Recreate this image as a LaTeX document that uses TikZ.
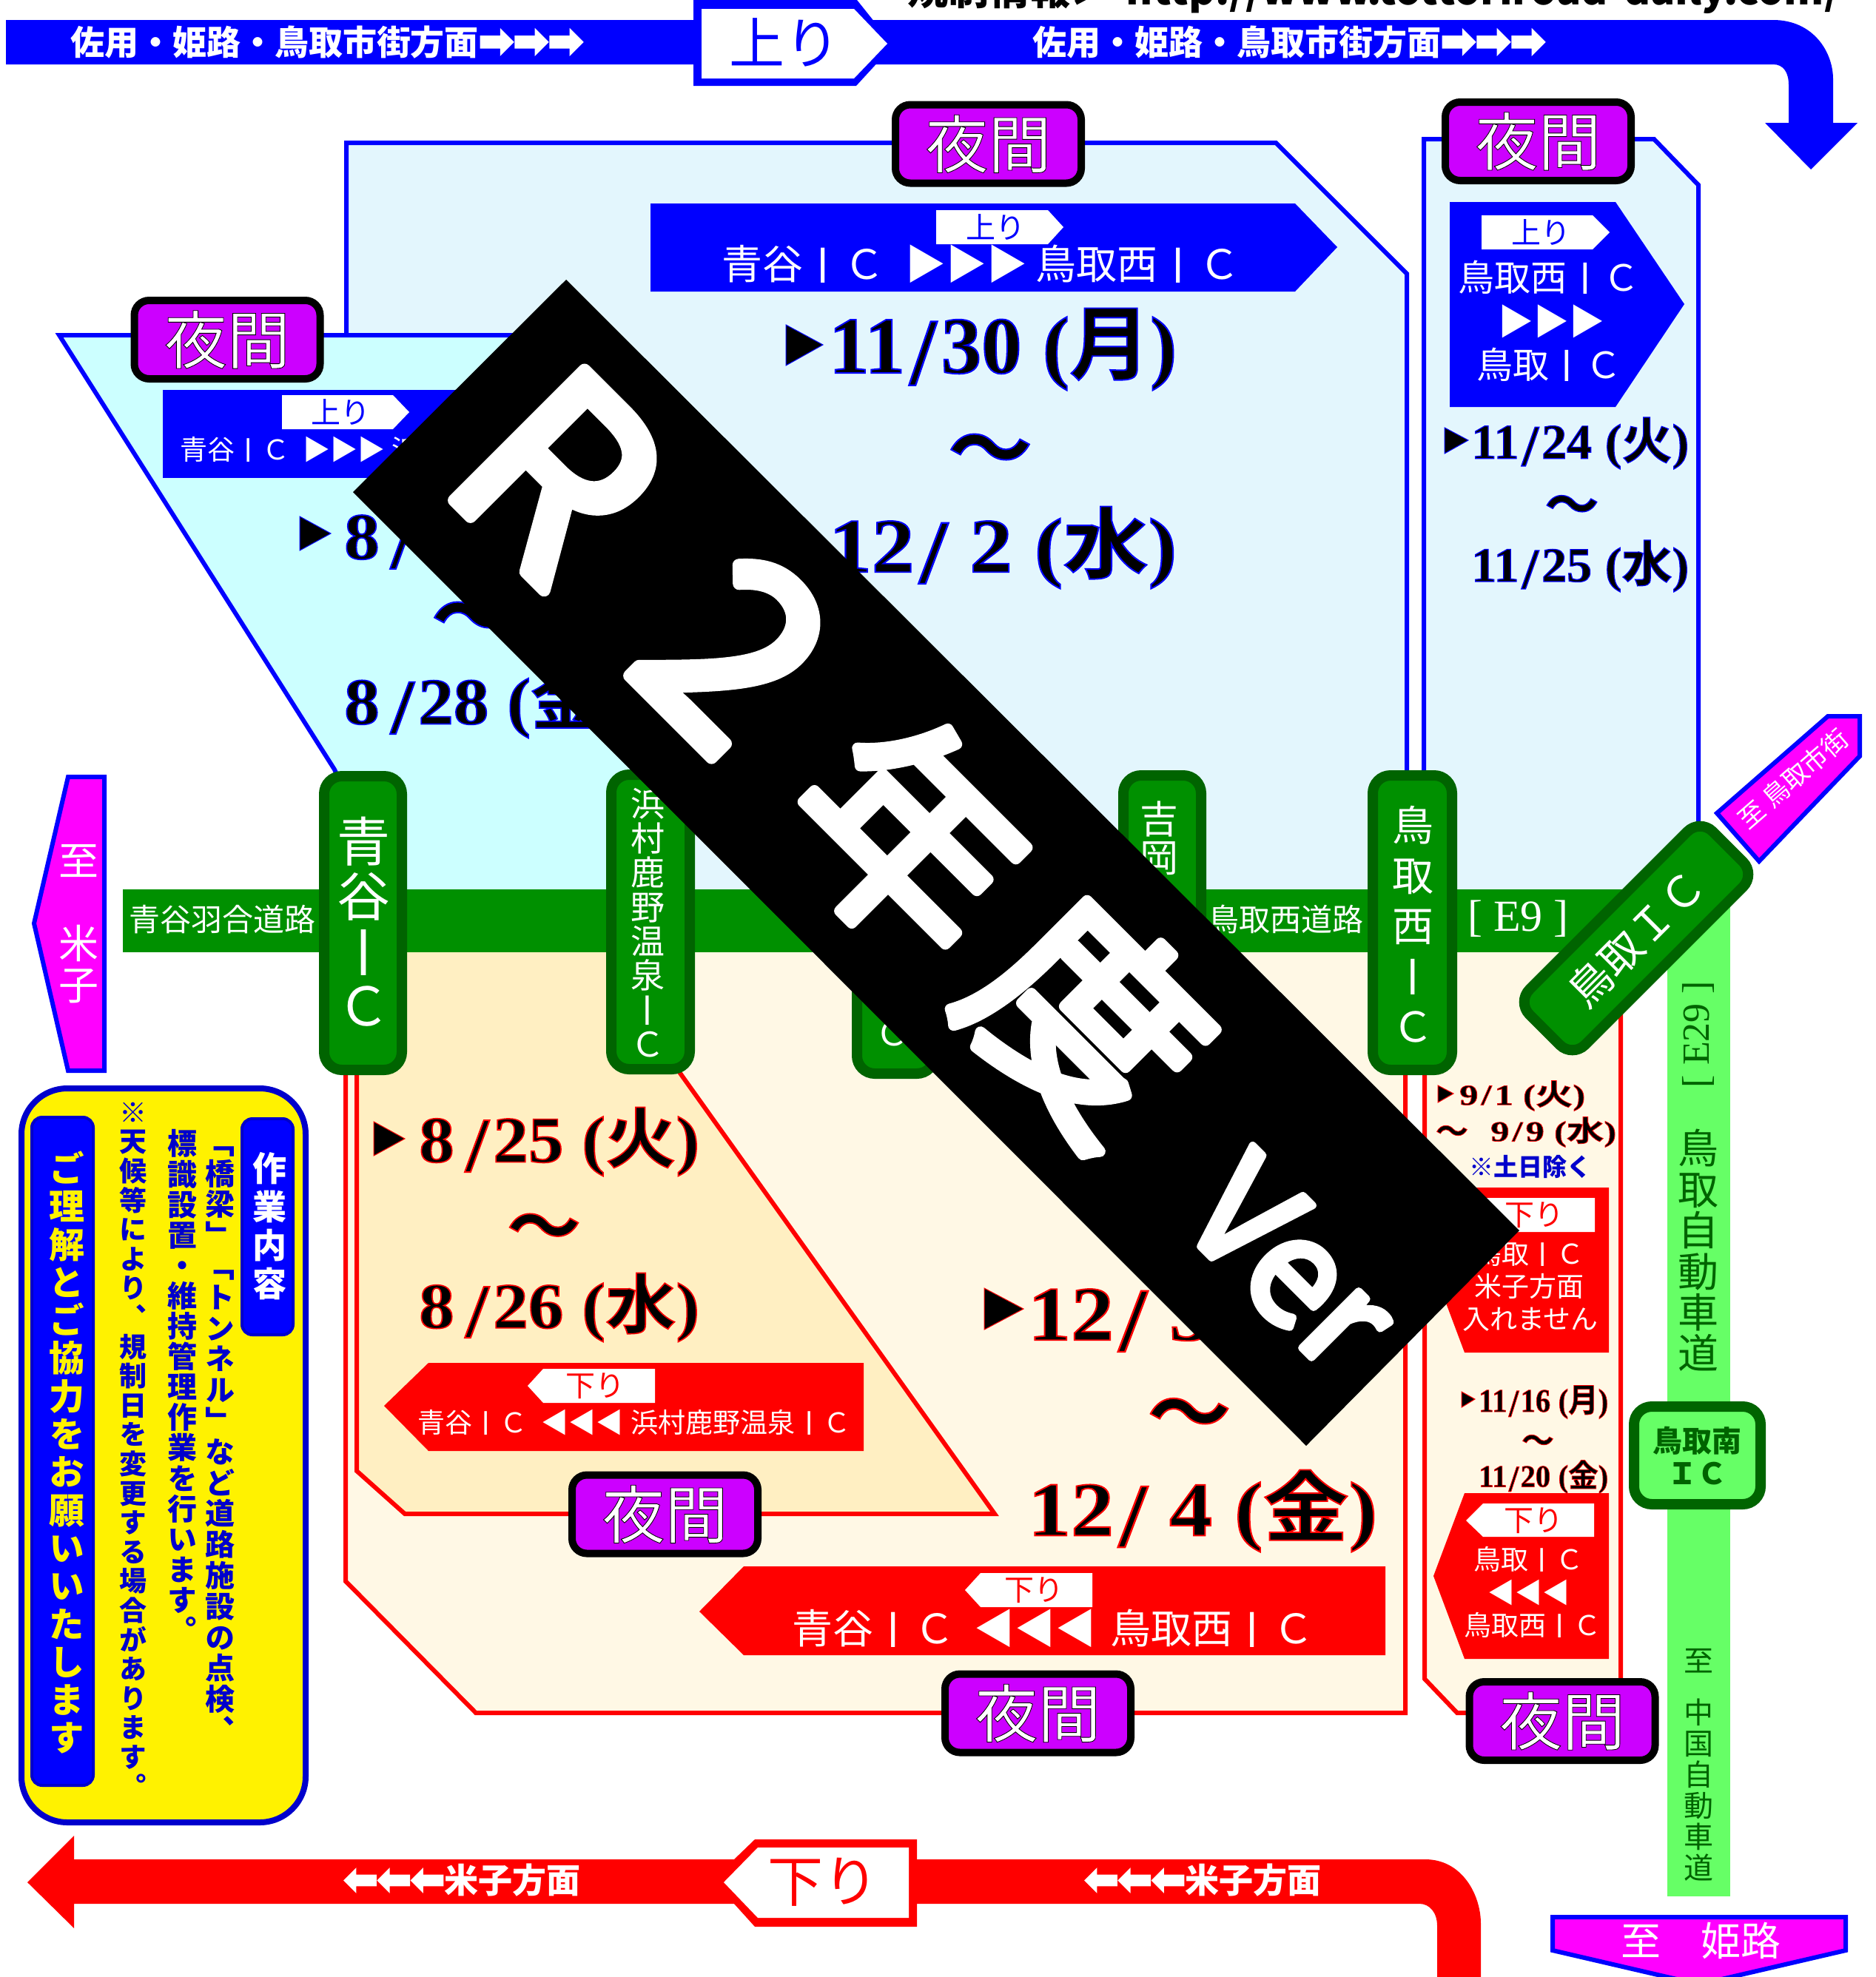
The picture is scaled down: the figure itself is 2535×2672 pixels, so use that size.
\documentclass[tikz,border=0pt]{standalone}
\usepackage{fontspec}
\usepackage{graphicx}
\setmainfont{Noto Sans CJK JP}
\newfontfamily\jpn{Noto Sans CJK JP}
\newfontfamily\jpv[Vertical=Alternates]{Noto Sans CJK JP}
\newfontfamily\jpo[UprightFont=* Bold,FakeBold=1.8]{Noto Sans CJK JP}
\newfontfamily\jpw[FakeBold=1]{Noto Sans CJK JP}
\newfontfamily\jpb[FakeBold=5]{Noto Sans CJK JP}
\newfontfamily\lso[UprightFont=* Bold,FakeBold=1.8]{Liberation Serif}
\newfontfamily\lsr{Liberation Serif}
\newfontfamily\lsans{Liberation Sans}
\newfontfamily\djv[FakeBold=6]{DejaVu Sans}
\definecolor{bluep}{HTML}{0000FF}
\definecolor{navyb}{HTML}{0000CC}
\definecolor{skyp}{HTML}{E3F6FD}
\definecolor{cyanp}{HTML}{CCFFFF}
\definecolor{creamp}{HTML}{FFF8E5}
\definecolor{orangep}{HTML}{FFEFC2}
\definecolor{roadg}{HTML}{009000}
\definecolor{darkg}{HTML}{006400}
\definecolor{lightg}{HTML}{66FF66}
\definecolor{purp}{HTML}{CC00FF}
\definecolor{magp}{HTML}{FF00FF}
\newcommand\fsz[1]{\fontsize{#1}{#1}\selectfont}
\newcommand\otext[3]{\special{pdf:bcolor [#1] [#2]}#3\special{pdf:ecolor}}
\newcommand\II{\hbox to 1em{\hss{\lsans\raisebox{-.08em}{\scalebox{1}[1.25]{I}}}\hss}}
\newdimen\vsstep
\def\vsend{e}\def\vgap{g}
\def\vsl#1{\ifx#1\vsend\let\vsnext\relax\else\ifx#1\vgap\vskip 28pt\relax\else\vbox to \vsstep{\vss\hbox to 1.2em{\hss\vrule height .88em depth .12em width 0pt\smash{#1}\hss}\vss}\fi\let\vsnext\vsl\fi\vsnext}
% name, (x,top), size, step, colour, font, chars
\newcommand\vcol[7]{\node[anchor=north,inner sep=0pt,text=#5] (#1) at (#2) {\vsstep=#4pt #6\fsz{#3}\vbox{\offinterlineskip\vsl#7\vsend}};}
% name, (x,y) west, width, height, stroke rgb, text
\newcommand\dateN[6]{\node[anchor=west,inner sep=0pt] (#1) at (#2) {\resizebox*{#3pt}{#4pt}{\otext{0 0 0}{#5}{\fsz{100}\lso #6}}};}
\newcommand\dsl{\kern6pt\raisebox{-14pt}{\fsz{118}/}\kern6pt}
\newcommand\wk[1]{\kern26pt({\jpo #1})}
\newcommand\tld[4]{\node[inner sep=0pt] (#1) at (#2) {\otext{0 0 0}{#4}{\fsz{#3}\jpo ～}};}
\tikzset{
 lbl/.style={inner sep=0pt,outer sep=0pt},
 badge/.style={draw=black,fill=purp,line width=10pt,rounded corners=20pt,inner sep=0pt,minimum width=251pt,minimum height=106pt,font=\jpw\fsz{85}},
 icbox/.style={draw=darkg,fill=roadg,line width=14pt,rounded corners=24pt,inner sep=0pt},
 bpanel/.style={draw=bluep,line width=6pt,miter limit=10},
 rpanel/.style={draw=red,line width=6pt,miter limit=10},
 sgnb/.style={fill=bluep},
 sgnr/.style={fill=red},
 wht/.style={lbl,text=white},
}
\begin{document}
\begin{tikzpicture}[x=1pt,y=-1pt]
\useasboundingbox (0,0) rectangle (2535,2672);
\fill[white] (0,0) rectangle (2535,2672);
% panels
\draw[bpanel,fill=skyp] (468,193) -- (1724,193) -- (1901,370) -- (1901,1250) -- (468,1250) -- cycle;
\draw[bpanel,fill=skyp] (1924,188) -- (2235,188) -- (2295,250) -- (2295,1125) -- (2190,1230) -- (1924,1250) -- cycle;
\draw[bpanel,fill=cyanp] (80,453) -- (700,453) -- (880,1040) -- (880,1250) -- (480,1250) -- (480,1100) -- (452,1040) -- cycle;
\draw[rpanel,fill=creamp] (467,1250) -- (1899,1250) -- (1899,2315) -- (643,2315) -- (467,2137) -- cycle;
\draw[rpanel,fill=orangep] (482,1250) -- (900,1250) -- (918,1449) -- (1344,2046) -- (547,2046) -- (482,1988) -- cycle;
\draw[rpanel,fill=creamp] (1925,1250) -- (2190,1250) -- (2190,2315) -- (1969,2315) -- (1925,2269) -- cycle;
% roads
\fill[lightg] (2253,1200) rectangle (2338,2563);
\fill[roadg] (166,1202) rectangle (2200,1287);
% top arrow
\fill[bluep] (8,27) -- (2396,27) .. controls (2450,27) and (2477,70) .. (2477,107) -- (2477,166) -- (2510,166) -- (2447,229) -- (2385,166) -- (2417,166) -- (2417,115) .. controls (2417,98) and (2410,87) .. (2396,87) -- (8,87) -- cycle;
\fill[bluep] (937,-5) -- (1154,-5) -- (1190,40) -- (1190,80) -- (1157,116) -- (937,116) -- cycle;
\fill[white] (948,12) -- (1154,12) -- (1199,59) -- (1154,106) -- (948,106) -- cycle;
\node[lbl,text=bluep] (upbig) at (1060,57) {\fsz{75}上り};
\node[wht,anchor=west] (toptxtl) at (95,57) {\fsz{46}\bfseries 佐用・姫路・鳥取市街方面{\djv\fsz{56}➡➡➡}};
\node[wht,anchor=west] (toptxtr) at (1395,57) {\fsz{46}\bfseries 佐用・姫路・鳥取市街方面{\djv\fsz{56}➡➡➡}};
\node[anchor=base west,inner sep=0pt] (toptext) at (1226,6) {\resizebox{1260pt}{!}{\fsz{55}\bfseries 規制情報＞\kern20pt http://www.tottoriroad-daily.com/}};
% bottom arrow
\fill[red] (100,2513) -- (1926,2513) .. controls (1975,2513) and (2001,2560) .. (2001,2600) -- (2001,2680) -- (1942,2680) -- (1942,2603) .. controls (1942,2585) and (1932,2573) .. (1918,2573) -- (100,2573) -- (100,2606) -- (37,2544) -- (100,2481) -- cycle;
\fill[red] (1239,2486) -- (1020,2486) -- (992,2513) -- (992,2573) -- (1020,2604) -- (1239,2604) -- cycle;
\fill[white] (1228,2497) -- (1024,2497) -- (978,2544) -- (1024,2592) -- (1228,2592) -- cycle;
\node[lbl,text=red] (downbig) at (1112,2544) {\fsz{75}下り};
\node[wht,anchor=west] (btmtxtl) at (465,2541) {{\djv\fsz{54}⬅⬅⬅}\fsz{46}\bfseries 米子方面};
\node[wht,anchor=west] (btmtxtr) at (1466,2541) {{\djv\fsz{54}⬅⬅⬅}\fsz{46}\bfseries 米子方面};
% blue signs
\fill[sgnb] (879,275) -- (1750,275) -- (1807,334) -- (1750,394) -- (879,394) -- cycle;
\fill[white] (1265,284) -- (1416,284) -- (1437,307) -- (1416,330) -- (1265,330) -- cycle;
\node[lbl,text=bluep] (up1) at (1345,307) {\fsz{40}上り};
\node[wht,anchor=west] (route1) at (975,357) {\fsz{55}青谷\II Ｃ\kern28pt▶▶▶\kern12pt鳥取西\II Ｃ};
\fill[sgnb] (220,527) -- (800,527) -- (800,646) -- (220,646) -- cycle;
\fill[white] (381,534) -- (531,534) -- (553,557) -- (531,580) -- (381,580) -- cycle;
\node[lbl,text=bluep] (up2) at (460,557) {\fsz{40}上り};
\node[wht,anchor=west] (route2) at (243,608) {\fsz{37}青谷\II Ｃ\kern19pt▶▶▶\kern9pt浜};
\fill[sgnb] (1959,273) -- (2183,273) -- (2276,411) -- (2183,550) -- (1959,550) -- cycle;
\fill[white] (2002,291) -- (2152,291) -- (2175,314) -- (2152,337) -- (2002,337) -- cycle;
\node[lbl,text=bluep] (up3) at (2082,314) {\fsz{40}上り};
\node[wht] (r3a) at (2093,375) {\fsz{49}鳥取西\II Ｃ};
\node[wht] (r3b) at (2096,434) {\fsz{48}▶▶▶};
\node[wht] (r3c) at (2093,493) {\fsz{49}鳥取\II Ｃ};
% red signs
\fill[sgnr] (519,1900) -- (579,1842) -- (1167,1842) -- (1167,1961) -- (579,1961) -- cycle;
\fill[white] (713,1873) -- (734,1850) -- (885,1850) -- (885,1896) -- (734,1896) -- cycle;
\node[lbl,text=red] (dn1) at (804,1873) {\fsz{40}下り};
\node[wht,anchor=west] (rd1) at (564,1923) {\fsz{37}青谷\II Ｃ\kern20pt◀◀◀\kern10pt浜村鹿野温泉\II Ｃ};
\fill[sgnr] (945,2178) -- (1005,2117) -- (1872,2117) -- (1872,2237) -- (1005,2237) -- cycle;
\fill[white] (1304,2149) -- (1325,2126) -- (1476,2126) -- (1476,2172) -- (1325,2172) -- cycle;
\node[lbl,text=red] (dn2) at (1397,2149) {\fsz{40}下り};
\node[wht,anchor=west] (rd2) at (1070,2201) {\fsz{55}青谷\II Ｃ\kern27pt◀◀◀\kern18pt鳥取西\II Ｃ};
\fill[sgnr] (1937,1716) -- (1979,1605) -- (2174,1605) -- (2174,1828) -- (1979,1828) -- cycle;
\fill[white] (1981,1642) -- (2004,1619) -- (2155,1619) -- (2155,1665) -- (2004,1665) -- cycle;
\node[lbl,text=red] (dn3) at (2073,1642) {\fsz{40}下り};
\node[wht] (rd3a) at (2066,1694) {\fsz{37}鳥取\II Ｃ};
\node[wht] (rd3b) at (2066,1738) {\fsz{37}米子方面};
\node[wht] (rd3c) at (2068,1783) {\fsz{37}入れません};
\fill[sgnr] (1937,2130) -- (1979,2018) -- (2174,2018) -- (2174,2242) -- (1979,2242) -- cycle;
\fill[white] (1981,2055) -- (2004,2032) -- (2154,2032) -- (2154,2077) -- (2004,2077) -- cycle;
\node[lbl,text=red] (dn4) at (2072,2055) {\fsz{40}下り};
\node[wht] (rd4a) at (2065,2107) {\fsz{37}鳥取\II Ｃ};
\node[wht] (rd4b) at (2066,2153) {\fsz{37}◀◀◀};
\node[wht] (rd4c) at (2071,2196) {\fsz{37}鳥取西\II Ｃ};
% dates: blue
\fill[black,draw=bluep,line width=1pt] (1062,439) -- (1112,466) -- (1062,494) -- cycle;
\dateN{d1a}{1120,472}{470}{111}{0 0 1}{11\dsl 30\wk{月}}
\tld{d1t}{1338,617}{114}{0 0 1}
\dateN{d1b}{1120,740}{470}{111}{0 0 1}{12\dsl\kern20pt 2\wk{水}}
\fill[black,draw=bluep,line width=1pt] (1952,578) -- (1984,595) -- (1952,613) -- cycle;
\dateN{d2a}{1988,599}{294}{70}{0 0 1}{11\dsl 24\wk{火}}
\tld{d2t}{2124,689}{73}{0 0 1}
\dateN{d2b}{1988,765}{294}{70}{0 0 1}{11\dsl 25\wk{水}}
\fill[black,draw=bluep,line width=1pt] (405,698) -- (447,721) -- (405,744) -- cycle;
\dateN{d3a}{465,727}{379}{95}{0 0 1}{8\kern10pt\dsl\phantom{27\wk{木}}}
\tld{d3t}{640,844}{114}{0 0 1}
\dateN{d3b}{465,950}{379}{95}{0 0 1}{8\kern10pt\dsl 28\wk{金}}
% dates: red
\fill[black,draw=red,line width=1pt] (505,1516) -- (547,1539) -- (505,1562) -- cycle;
\dateN{d4a}{566,1543}{379}{93}{1 0 0}{8\kern10pt\dsl 25\wk{火}}
\tld{d4t}{735,1667}{100}{1 0 0}
\dateN{d4b}{566,1767}{379}{93}{1 0 0}{8\kern10pt\dsl 26\wk{水}}
\fill[black,draw=red,line width=1pt] (1330,1741) -- (1383,1769) -- (1330,1797) -- cycle;
\dateN{d5a}{1389,1778}{472}{111}{1 0 0}{12\dsl\kern20pt 3\phantom{\wk{木}}}
\tld{d5t}{1607,1920}{113}{1 0 0}
\dateN{d5b}{1389,2042}{472}{111}{1 0 0}{12\dsl\kern20pt 4\wk{金}}
\fill[black,draw=red,line width=1pt] (1943,1467) -- (1964,1478) -- (1943,1490) -- cycle;
\dateN{d6a}{1972,1481}{170}{41}{1 0 0}{9\kern8pt/\kern8pt 1\wk{火}}
\tld{d6t}{1962,1533}{44}{1 0 0}
\dateN{d6b}{2014,1530}{170}{41}{1 0 0}{9\kern8pt/\kern8pt 9\wk{水}}
\node[lbl,text=navyb] (d6n) at (2068,1577) {\fsz{33}\bfseries ※土日除く};
\fill[black,draw=red,line width=1pt] (1975,1881) -- (1993,1891) -- (1975,1902) -- cycle;
\dateN{d7a}{1998,1895}{175}{45}{1 0 0}{11\dsl 16\wk{月}}
\tld{d7t}{2078,1951}{44}{1 0 0}
\dateN{d7b}{1998,1996}{175}{45}{1 0 0}{11\dsl 20\wk{金}}
% road labels
\node[wht,anchor=west] (rl1) at (174,1243) {\fsz{42}青谷羽合道路};
\node[wht,anchor=west] (rl2) at (1632,1242) {\fsz{42}鳥取西道路};
\node[wht,anchor=west] (rl3) at (1983,1242) {\lsr\fsz{60}[ E9 ]};
% ICs
\node[icbox,minimum width=105pt,minimum height=397pt] (ic1) at (490.5,1247.5) {};
\vcol{ic1t}{491,1100}{72}{74}{white}{\jpn}{青谷\II Ｃ}
\node[icbox,minimum width=106pt,minimum height=398pt] (ic2) at (879,1246) {};
\vcol{ic2t}{875,1063}{46}{46.4}{white}{\jpn}{浜村鹿野温泉\II Ｃ}
\node[icbox,minimum width=105pt,minimum height=403pt] (ic3) at (1210.5,1249.5) {};
\node[wht] (ic3t) at (1205,1397) {\fsz{46}Ｃ};
\node[icbox,minimum width=105pt,minimum height=300pt] (ic4) at (1570.5,1198) {};
\vcol{ic4t}{1566,1081}{52}{52}{white}{\jpn}{吉岡}
\node[icbox,minimum width=107pt,minimum height=398pt] (ic5) at (1908.5,1247) {};
\vcol{ic5t}{1909,1081}{56}{68}{white}{\jpn}{鳥取西\II Ｃ}
\node[icbox,rotate=45,minimum width=350pt,minimum height=106pt,text=white] (ic6) at (2211,1268) {\fsz{58}鳥取ＩＣ};
\node[icbox,fill=lightg,minimum width=171pt,minimum height=132pt,text=darkg,align=center,font=\fsz{40}\bfseries] (ic7) at (2293.5,1967) {鳥取南\\[4pt]ＩＣ};
% E29 labels
\node[lbl,rotate=90,text=darkg] (e29) at (2295,1398) {\lsr\fsz{52}[ E29 ]};
\vcol{e29a}{2295,1524}{55}{55.4}{darkg}{\jpn}{鳥取自動車道}
\vcol{e29b}{2295,2223}{40}{42}{darkg}{\jpn}{至\vgap 中国自動車道}
% destination signs
\draw[draw=bluep,fill=magp,line width=6pt] (2320,1099) -- (2470,968) -- (2513,968) -- (2513,1022) -- (2377,1164) -- cycle;
\node[wht,rotate=41] (s1) at (2423,1052) {\fsz{35}至 鳥取市街};
\draw[draw=bluep,fill=magp,line width=6pt] (141,1050) -- (92,1050) -- (46,1248) -- (92,1447) -- (141,1447) -- cycle;
\vcol{s2}{106,1135}{54}{56}{white}{\jpn}{至　米子}
\draw[draw=bluep,fill=magp,line width=6pt] (2098,2591) -- (2494,2591) -- (2494,2636) -- (2296,2682) -- (2098,2636) -- cycle;
\node[wht] (s3) at (2298,2623) {\fsz{54}至　姫路};
% yellow panel
\node[draw=navyb,fill=yellow,line width=8pt,rounded corners=62pt,minimum width=384pt,minimum height=992pt] (ypanel) at (221,1967) {};
\node[draw=navyb,fill=bluep,line width=4pt,rounded corners=14pt,minimum width=83pt,minimum height=903pt] (ybox1) at (84.5,1961.5) {};
\vcol{yt1}{90,1553.35}{48}{51.3}{yellow}{\jpv\bfseries}{ご理解とご協力をお願いいたします}
\node[draw=navyb,fill=bluep,line width=4pt,rounded corners=14pt,minimum width=69pt,minimum height=292pt] (ybox2) at (361.5,1658) {};
\vcol{yt2}{364,1553}{46}{52}{white}{\jpv\bfseries}{作業内容}
\vcol{yt3}{297,1523}{40}{41.8}{navyb}{\jpv\bfseries}{「橋梁」「トンネル」など道路施設の点検、}
\vcol{yt4}{246,1525}{40}{41.1}{navyb}{\jpv\bfseries}{標識設置・維持管理作業を行います。}
\vcol{yt5}{180,1483.2}{37}{39.6}{navyb}{\jpv\bfseries}{※天候等により、規制日を変更する場合があります。}
% badges
\node[badge] (b1) at (1335.5,194.5) {\otext{1 1 1}{0 0 0}{夜間}};
\node[badge] (b2) at (2078.5,191) {\otext{1 1 1}{0 0 0}{夜間}};
\node[badge] (b3) at (307,459) {\otext{1 1 1}{0 0 0}{夜間}};
\node[badge] (b4) at (898.5,2046.5) {\otext{1 1 1}{0 0 0}{夜間}};
\node[badge] (b5) at (1402.5,2315.5) {\otext{1 1 1}{0 0 0}{夜間}};
\node[badge] (b6) at (2111,2326) {\otext{1 1 1}{0 0 0}{夜間}};
% banner
\fill[black] (765,378) -- (2053,1663) -- (1765,1954) -- (477,665) -- cycle;
\node[wht,rotate=-45,line join=round] (banner) at (1276,1177) {\jpb\fsz{340}R\kern139pt 2\kern98pt{\fsz{300}年\kern44pt 度}\kern128pt{\fsz{200}Ver}};
\end{tikzpicture}
\end{document}
